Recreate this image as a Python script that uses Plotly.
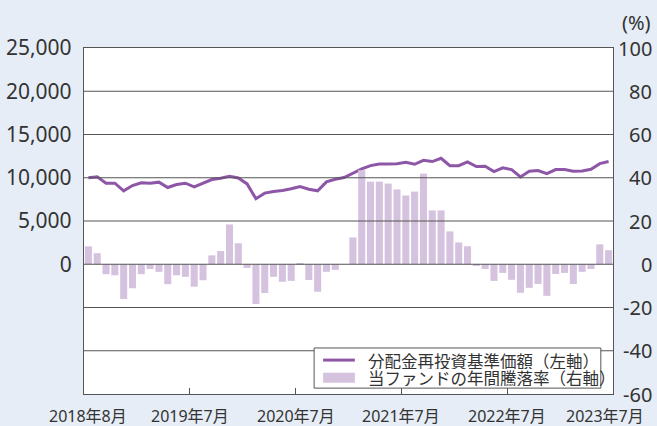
import plotly.graph_objects as go

# ---- data ----
x_labels = ["2018年8月", "2019年7月", "2020年7月", "2021年7月", "2022年7月", "2023年7月"]
x_label_pos = [0, 11.5, 23.5, 35.5, 47.5, 58.6]
x_tick_marks = [11.5, 23.5, 35.5, 47.5]

nav = [10000, 10100, 9370, 9370, 8490, 9100, 9410, 9370, 9490, 8870,
       9220, 9370, 8950, 9370, 9790, 9950, 10180, 9980, 9290, 7570,
       8220, 8410, 8520, 8720, 8990, 8680, 8490, 9520, 9830, 10020,
       10560, 11020, 11400, 11600, 11600, 11630, 11790, 11560, 12020, 11870,
       12250, 11400, 11400, 11830, 11290, 11330, 10710, 11140, 10940, 10100,
       10750, 10830, 10480, 10940, 10940, 10750, 10790, 10980, 11630, 11870]

ret = [8.3, 5.1, -4.6, -5.1, -16.1, -11.1, -4.6, -2.2, -3.5, -9.2,
       -5.1, -5.8, -10.4, -7.4, 4.1, 6.1, 18.4, 9.7, -1.7, -18.4,
       -13.3, -5.8, -8.1, -7.7, 0.3, -7.3, -12.7, -3.5, -2.6, 0.0,
       12.4, 43.5, 38.2, 38.2, 37.3, 34.6, 31.8, 33.6, 41.9, 24.9,
       24.9, 15.2, 10.1, 8.3, -0.8, -2.2, -7.7, -4.0, -7.2, -13.2,
       -10.9, -9.1, -14.6, -4.5, -4.0, -9.1, -3.5, -2.2, 9.2, 6.5]

left_ticks = [0, 5000, 10000, 15000, 20000, 25000]
right_ticks = [-60, -40, -20, 0, 20, 40, 60, 80, 100]

name_nav = "分配金再投資基準価額（左軸）"
name_ret = "当ファンドの年間騰落率（右軸）"

idx = list(range(len(nav)))

NUM_FONT = "Noto Sans, Noto Sans CJK JP, sans-serif"
JP_FONT = "Noto Sans CJK JP, sans-serif"
TXT = "#333333"
GRID = "#555555"
LINE_C = "#8e56a6"
BAR_C = "#d5c2df"

fig = go.Figure()
fig.add_trace(go.Bar(x=idx, y=ret, yaxis="y2", marker=dict(color=BAR_C, line=dict(width=0)),
                     width=0.8, showlegend=False, name=name_ret))
fig.add_trace(go.Scatter(x=idx, y=nav, mode="lines", line=dict(color=LINE_C, width=3),
                         showlegend=False, name=name_nav))

shapes = []
for v in right_ticks[1:-1]:
    shapes.append(dict(type="line", xref="paper", x0=0, x1=1, yref="y2", y0=v, y1=v,
                       line=dict(color=GRID, width=1.2), layer="above"))

# custom legend (box, swatches, labels) in paper coordinates
LG_X0, LG_X1, LG_Y0, LG_Y1 = 0.435, 0.977, 0.017, 0.133
SW_X0, SW_X1 = 0.452, 0.512
ROW1, ROW2 = 0.098, 0.047
shapes.append(dict(type="rect", xref="paper", yref="paper", x0=LG_X0, x1=LG_X1,
                   y0=LG_Y0, y1=LG_Y1, fillcolor="white",
                   line=dict(color=GRID, width=1), layer="above"))
shapes.append(dict(type="line", xref="paper", yref="paper", x0=SW_X0, x1=SW_X1,
                   y0=ROW1, y1=ROW1, line=dict(color=LINE_C, width=3), layer="above"))
shapes.append(dict(type="line", xref="paper", yref="paper", x0=SW_X0, x1=SW_X1,
                   y0=ROW2, y1=ROW2, line=dict(color=BAR_C, width=10), layer="above"))

ann = []
for name, row in ((name_nav, ROW1), (name_ret, ROW2)):
    ann.append(dict(text=name, x=0.533, xref="paper", xanchor="left",
                    y=row, yref="paper", yanchor="middle", showarrow=False,
                    height=17, valign="middle",
                    font=dict(family=JP_FONT, size=16.5, color=TXT)))
for v in right_ticks:
    ann.append(dict(text=str(v), x=1.0775, xref="paper", xanchor="right",
                    y=v, yref="y2", yanchor="middle", showarrow=False,
                    font=dict(family=NUM_FONT, size=20, color=TXT)))
ann.append(dict(text="(%)", x=1.045, xref="paper", xanchor="center",
                y=1.075, yref="paper", yanchor="middle", showarrow=False,
                font=dict(family=NUM_FONT, size=20, color=TXT)))
for lab, pos in zip(x_labels, x_label_pos):
    ann.append(dict(text=lab, x=pos, xref="x", xanchor="center",
                    y=-0.064, yref="paper", yanchor="middle", showarrow=False,
                    font=dict(family=NUM_FONT, size=16, color=TXT)))

fig.update_layout(
    width=657, height=426, autosize=False,
    margin=dict(l=84, r=44, t=48, b=32, autoexpand=False),
    paper_bgcolor="#e6edf6", plot_bgcolor="white",
    showlegend=False,
    xaxis=dict(range=[-0.5, len(nav) - 0.5], tickvals=x_tick_marks,
               ticktext=[""] * len(x_tick_marks), ticks="inside", ticklen=6,
               tickcolor=GRID, tickwidth=1.2, automargin=False,
               showgrid=False, zeroline=False, showline=True, mirror=True,
               linecolor=GRID, linewidth=1.3),
    yaxis=dict(range=[-15000, 25000], tickvals=left_ticks,
               ticktext=[f"{v:,}" for v in left_ticks],
               tickfont=dict(family=NUM_FONT, size=21, color=TXT),
               ticks="", ticklabelstandoff=7, automargin=False,
               showgrid=False, zeroline=False, showline=True, mirror=True,
               linecolor=GRID, linewidth=1.3),
    yaxis2=dict(range=[-60, 100], overlaying="y", side="right", automargin=False,
                showticklabels=False, showgrid=False, zeroline=False, ticks=""),
    shapes=shapes, annotations=ann,
)

fig.write_html("out.html", config={"displayModeBar": False},
               post_script="document.body.style.margin='0';")
